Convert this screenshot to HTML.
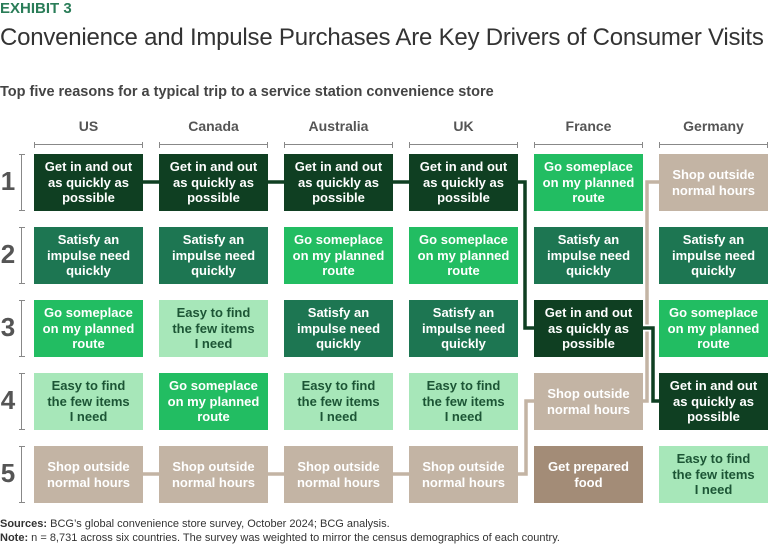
<!DOCTYPE html>
<html><head><meta charset="utf-8"><style>
*{margin:0;padding:0;box-sizing:border-box}
body{width:768px;height:545px;background:#fff;position:relative;overflow:hidden;font-family:"Liberation Sans",sans-serif;color:#333}
.a{position:absolute}
.box{position:absolute;width:109px;height:57px;display:flex;align-items:center;justify-content:center;text-align:center;font-size:13px;font-weight:bold;line-height:15.5px;color:#fff}
.D{background:#0f3f22}.M{background:#1d7652}.B{background:#22bd62}.L{background:#a7e7b9;color:#1c5535}.T{background:#c3b4a4}.P{background:#a38c77}
.hd{position:absolute;top:118px;width:109px;text-align:center;font-size:14px;font-weight:bold;color:#555}
.hb{position:absolute;top:142px;width:109px;height:6px;border:1px solid #888;border-bottom:none;border-top:none}
.hb:after{content:"";position:absolute;left:0;right:0;top:2px;border-top:1px solid #888}
.rn{position:absolute;left:0;width:16px;text-align:center;font-size:26px;font-weight:bold;color:#555}
.rb{position:absolute;left:19px;width:6px;height:57px;border-top:1px solid #888;border-bottom:1px solid #888}
.rb:after{content:"";position:absolute;top:0;bottom:0;left:2px;border-left:1px solid #888}
</style></head><body>
<div class="a" style="left:0;top:0;font-size:15px;font-weight:bold;color:#2a7d58">EXHIBIT 3</div>
<div class="a" style="left:0;top:24px;font-size:24px;color:#333;white-space:nowrap;letter-spacing:-0.22px">Convenience and Impulse Purchases Are Key Drivers of Consumer Visits</div>
<div class="a" style="left:0;top:84px;font-size:14.5px;font-weight:bold;color:#444">Top five reasons for a typical trip to a service station convenience store</div>

<div class="hd" style="left:34px">US</div><div class="hd" style="left:159px">Canada</div><div class="hd" style="left:284px">Australia</div><div class="hd" style="left:409px">UK</div><div class="hd" style="left:534px">France</div><div class="hd" style="left:659px">Germany</div>
<div class="hb" style="left:34px"></div><div class="hb" style="left:159px"></div><div class="hb" style="left:284px"></div><div class="hb" style="left:409px"></div><div class="hb" style="left:534px"></div><div class="hb" style="left:659px"></div>

<div class="rn" style="top:166px">1</div><div class="rn" style="top:239px">2</div><div class="rn" style="top:312px">3</div><div class="rn" style="top:385px">4</div><div class="rn" style="top:458px">5</div>
<div class="rb" style="top:154px"></div><div class="rb" style="top:227px"></div><div class="rb" style="top:300px"></div><div class="rb" style="top:373px"></div><div class="rb" style="top:446px"></div>

<svg class="a" style="left:0;top:0" width="768" height="545">
<g fill="none" stroke-linejoin="miter">
<path d="M143,474 H526 V401 H534 M643,401 H647 V182 H659" stroke="#fff" stroke-width="7"/>
<path d="M143,474 H526 V401 H534 M643,401 H647 V182 H659" stroke="#c3b4a4" stroke-width="3.5"/>
<path d="M143,182 H525 V328 H534 M643,328 H653 V401 H659" stroke="#fff" stroke-width="7"/>
<path d="M143,182 H525 V328 H534 M643,328 H653 V401 H659" stroke="#0f3f22" stroke-width="3.5"/>
</g></svg>

<div class="box D" style="left:34px;top:154px">Get in and out<br>as quickly as<br>possible</div>
<div class="box M" style="left:34px;top:227px">Satisfy an<br>impulse need<br>quickly</div>
<div class="box B" style="left:34px;top:300px">Go someplace<br>on my planned<br>route</div>
<div class="box L" style="left:34px;top:373px">Easy to find<br>the few items<br>I need</div>
<div class="box T" style="left:34px;top:446px">Shop outside<br>normal hours</div>
<div class="box D" style="left:159px;top:154px">Get in and out<br>as quickly as<br>possible</div>
<div class="box M" style="left:159px;top:227px">Satisfy an<br>impulse need<br>quickly</div>
<div class="box L" style="left:159px;top:300px">Easy to find<br>the few items<br>I need</div>
<div class="box B" style="left:159px;top:373px">Go someplace<br>on my planned<br>route</div>
<div class="box T" style="left:159px;top:446px">Shop outside<br>normal hours</div>
<div class="box D" style="left:284px;top:154px">Get in and out<br>as quickly as<br>possible</div>
<div class="box B" style="left:284px;top:227px">Go someplace<br>on my planned<br>route</div>
<div class="box M" style="left:284px;top:300px">Satisfy an<br>impulse need<br>quickly</div>
<div class="box L" style="left:284px;top:373px">Easy to find<br>the few items<br>I need</div>
<div class="box T" style="left:284px;top:446px">Shop outside<br>normal hours</div>
<div class="box D" style="left:409px;top:154px">Get in and out<br>as quickly as<br>possible</div>
<div class="box B" style="left:409px;top:227px">Go someplace<br>on my planned<br>route</div>
<div class="box M" style="left:409px;top:300px">Satisfy an<br>impulse need<br>quickly</div>
<div class="box L" style="left:409px;top:373px">Easy to find<br>the few items<br>I need</div>
<div class="box T" style="left:409px;top:446px">Shop outside<br>normal hours</div>
<div class="box B" style="left:534px;top:154px">Go someplace<br>on my planned<br>route</div>
<div class="box M" style="left:534px;top:227px">Satisfy an<br>impulse need<br>quickly</div>
<div class="box D" style="left:534px;top:300px">Get in and out<br>as quickly as<br>possible</div>
<div class="box T" style="left:534px;top:373px">Shop outside<br>normal hours</div>
<div class="box P" style="left:534px;top:446px">Get prepared<br>food</div>
<div class="box T" style="left:659px;top:154px">Shop outside<br>normal hours</div>
<div class="box M" style="left:659px;top:227px">Satisfy an<br>impulse need<br>quickly</div>
<div class="box B" style="left:659px;top:300px">Go someplace<br>on my planned<br>route</div>
<div class="box D" style="left:659px;top:373px">Get in and out<br>as quickly as<br>possible</div>
<div class="box L" style="left:659px;top:446px">Easy to find<br>the few items<br>I need</div>

<div class="a" style="left:0;top:517px;font-size:11px;color:#333;line-height:14px;white-space:nowrap"><b>Sources:</b> BCG’s global convenience store survey, October 2024; BCG analysis.<br><b>Note:</b> n = 8,731 across six countries. The survey was weighted to mirror the census demographics of each country.</div>
</body></html>
